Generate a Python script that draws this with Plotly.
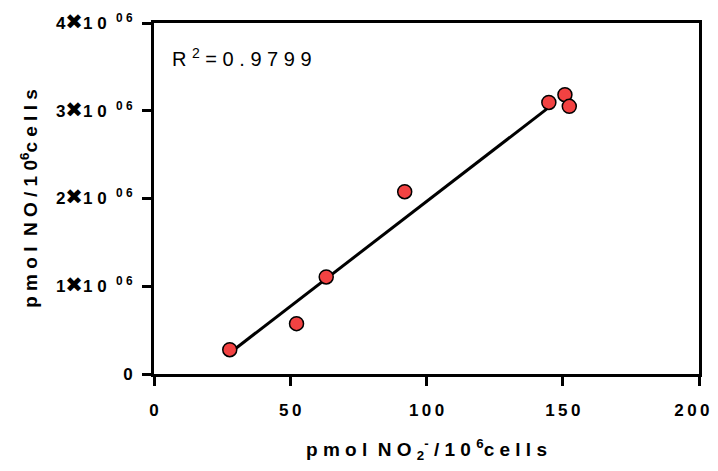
import numpy as np
import plotly.graph_objects as go

# data
no2_x = [27.8, 52.3, 63.2, 92.0, 144.9, 150.8, 152.4]
no_y = [0.277e6, 0.574e6, 1.106e6, 2.078e6, 3.095e6, 3.183e6, 3.05e6]
fit_x_range = [27.8, 144.9]
r2_text = "0.9799"
x_tick_vals = [0, 50, 100, 150, 200]
y_tick_vals = [0, 1e6, 2e6, 3e6, 4e6]
y_tick_mant = ["0", "1", "2", "3", "4"]

NB = "\u00a0"
TH = "\u2009"


def spaced(s, sep=NB):
    return sep.join(list(s))


slope, intercept = np.polyfit(no2_x, no_y, 1)
fx = np.array(fit_x_range)
fy = slope * fx + intercept

FONT = "Liberation Sans, Arial, DejaVu Sans"

fig = go.Figure()
fig.add_trace(go.Scatter(x=fx, y=fy, mode="lines",
                         line=dict(color="black", width=3), showlegend=False,
                         hoverinfo="skip"))
fig.add_trace(go.Scatter(x=no2_x, y=no_y, mode="markers",
                         marker=dict(size=14, color="#F24242",
                                     line=dict(color="black", width=1.5)),
                         showlegend=False))

y_tick_text = []
for m in y_tick_mant:
    if m == "0":
        y_tick_text.append("0")
    else:
        y_tick_text.append(m + '<span style="font-size:21px">✖</span>' + "1" + NB + "0"
                           + NB + NB + "<sup>0" + NB + "6</sup>")

x_tick_text = [spaced(str(v), TH) for v in x_tick_vals]
# keep the last label inside the page edge
x_tick_text[-1] = x_tick_text[-1] + NB * 3

x_title = (spaced("pmol") + NB + NB + spaced("NO") + NB + "<sub>2</sub><sup>-</sup>"
           + NB + "/" + NB + "1" + NB + "0" + NB + "<sup>6</sup>" + spaced("cells"))
y_title = (spaced("pmol") + NB + NB + spaced("NO") + NB + "/" + NB + "1" + NB + "0"
           + "<sup>6</sup>" + spaced("cells"))

axis_common = dict(showline=True, linewidth=3, linecolor="black", mirror=True,
                   ticks="outside", ticklen=9, tickwidth=3, tickcolor="black",
                   showgrid=False, zeroline=False, automargin=False,
                   ticklabeloverflow="allow",
                   tickfont=dict(family=FONT, size=17, color="black", weight="bold"))

# page body has an 8px default margin, so the figure is sized to fit the window
fig.update_layout(
    width=702, height=455,
    margin=dict(l=146, r=11, t=15, b=89),
    plot_bgcolor="white", paper_bgcolor="white",
    xaxis=dict(range=[0, 200], tickvals=x_tick_vals, ticktext=x_tick_text,
               ticklabelstandoff=10,
               title=dict(text=x_title, standoff=35,
                          font=dict(family=FONT, size=19, color="black", weight="bold")),
               **axis_common),
    yaxis=dict(range=[0, 4e6], tickvals=y_tick_vals, ticktext=y_tick_text,
               ticklabelstandoff=6,
               title=dict(text=y_title, standoff=14,
                          font=dict(family=FONT, size=19, color="black", weight="bold")),
               **axis_common),
    annotations=[dict(x=0.03, y=0.903, xref="paper", yref="paper",
                      xanchor="left", yanchor="middle", showarrow=False,
                      text="R" + NB + "<sup>2</sup>" + NB + "=" + NB + spaced(r2_text),
                      font=dict(family=FONT, size=20, color="black"))],
)

fig.write_html("out.html")
